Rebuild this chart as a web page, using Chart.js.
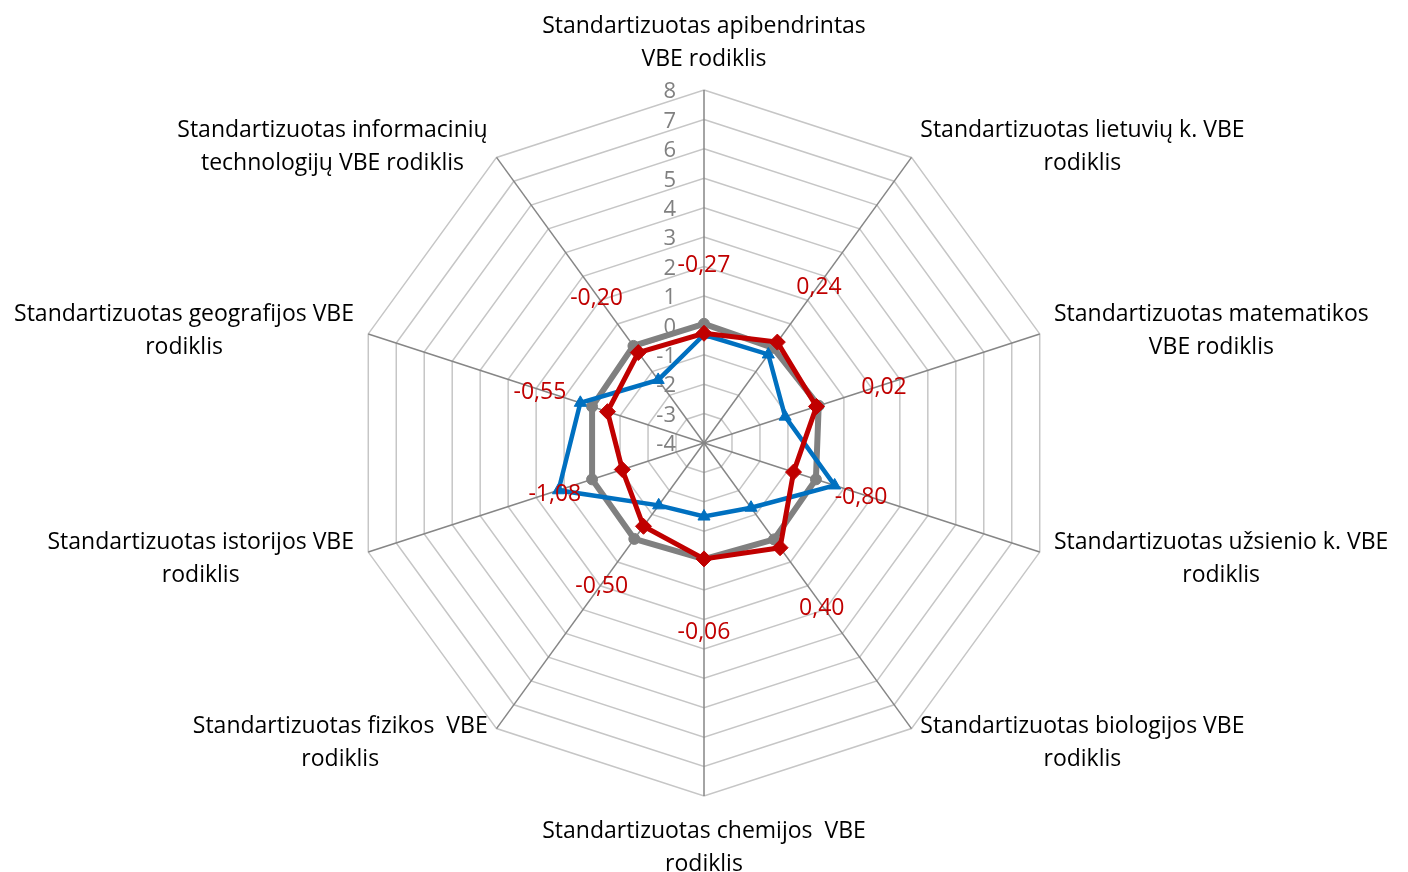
<!DOCTYPE html>
<html>
<head>
<meta charset="utf-8">
<script src="https://cdn.jsdelivr.net/npm/chart.js@4.4.0/dist/chart.umd.min.js"></script>
<style>
  html, body { margin: 0; padding: 0; background: #fff; }
</style>
</head>
<body>
<canvas id="myChart" width="1408" height="872"></canvas>
<script>
const categories = [
  ['Standartizuotas apibendrintas', 'VBE rodiklis'],
  ['Standartizuotas lietuvių k. VBE', 'rodiklis'],
  ['Standartizuotas matematikos', 'VBE rodiklis'],
  ['Standartizuotas užsienio k. VBE', 'rodiklis'],
  ['Standartizuotas biologijos VBE', 'rodiklis'],
  ['Standartizuotas chemijos  VBE', 'rodiklis'],
  ['Standartizuotas fizikos  VBE', 'rodiklis'],
  ['Standartizuotas istorijos VBE', 'rodiklis'],
  ['Standartizuotas geografijos VBE', 'rodiklis'],
  ['Standartizuotas informacinių', 'technologijų VBE rodiklis'],
];
const redValues = [-0.27, 0.24, 0.02, -0.80, 0.40, -0.06, -0.50, -1.08, -0.55, -0.20];
const blueValues = [-0.32, -0.28, -1.1, 0.67, -1.28, -1.5, -1.38, 1.2, 0.42, -1.35];
const grayValues = [0.05, 0.0, 0.1, 0.0, 0.05, -0.05, 0.03, 0.0, 0.0, 0.08];
const tickLabels = [-4, -3, -2, -1, 0, 1, 2, 3, 4, 5, 6, 7, 8];

const FONT = '"Open Sans", Lato, sans-serif';

const labelPlugin = {
  id: 'labelPlugin',
  beforeDatasetsDraw(chart) {
    const scale = chart.scales.r;
    const ctx = chart.ctx;
    ctx.save();
    ctx.font = '22px ' + FONT;
    ctx.fillStyle = '#808080';
    ctx.textAlign = 'right';
    ctx.textBaseline = 'middle';
    tickLabels.forEach((t) => {
      const y = scale.yCenter - scale.getDistanceFromCenterForValue(t);
      ctx.fillText(String(t), scale.xCenter - 28, y + 2);
    });
    ctx.restore();
  },
  afterDatasetsDraw(chart) {
    const scale = chart.scales.r;
    const ctx = chart.ctx;
    ctx.save();
    ctx.textBaseline = 'middle';
    // axis titles
    ctx.font = '23px ' + FONT;
    ctx.fillStyle = '#000';
    ctx.textAlign = 'center';
    const lh = 33;
    categories.forEach((lines, i) => {
      const p = scale.getPointPosition(i, scale.drawingArea + 15);
      const deg = i * 360 / categories.length;
      const w = Math.max(...lines.map((l) => ctx.measureText(l).width));
      let cx = p.x;
      let y0;
      if (deg === 0) {
        y0 = p.y - 16 - (lines.length - 1) * lh;
      } else if (deg === 180) {
        y0 = p.y + 20;
      } else {
        cx = deg < 180 ? p.x + w / 2 : p.x - w / 2;
        y0 = p.y + 2 - (lines.length - 1) * lh / 2;
      }
      lines.forEach((l, k) => ctx.fillText(l, cx, y0 + k * lh));
    });
    // red value labels
    ctx.font = '23px ' + FONT;
    ctx.fillStyle = '#C00000';
    redValues.forEach((v, i) => {
      const p = scale.getPointPosition(i, scale.getDistanceFromCenterForValue(v) + 71);
      ctx.fillText(v.toFixed(2).replace('.', ','), p.x, p.y + 3);
    });
    ctx.restore();
  },
};

const ctx = document.getElementById('myChart');
const myChart = new Chart(ctx, {
  type: 'radar',
  plugins: [labelPlugin],
  data: {
    labels: categories,
    datasets: [
      {
        label: 'red',
        data: redValues,
        borderColor: '#C00000',
        backgroundColor: '#C00000',
        borderWidth: 5,
        pointStyle: 'rectRot',
        pointRadius: 8,
        pointBorderWidth: 1,
        fill: false,
      },
      {
        label: 'blue',
        data: blueValues,
        borderColor: '#0070C0',
        backgroundColor: '#0070C0',
        borderWidth: 4.5,
        pointStyle: 'triangle',
        pointRadius: 7,
        pointBorderWidth: 1,
        fill: false,
      },
      {
        label: 'gray',
        data: grayValues,
        borderColor: '#808080',
        backgroundColor: '#808080',
        borderWidth: 6,
        pointStyle: 'circle',
        pointRadius: 5.5,
        pointBorderWidth: 1,
        fill: false,
      },
    ],
  },
  options: {
    responsive: false,
    animation: false,
    layout: {
      padding: { top: 90, bottom: 76, left: 0, right: 0 },
    },
    elements: {
      line: { tension: 0 },
    },
    scales: {
      r: {
        min: -4,
        max: 8,
        ticks: { stepSize: 1, display: false },
        grid: { color: '#C6C6C6', lineWidth: 1.5 },
        angleLines: { color: '#868686', lineWidth: 1.5 },
        pointLabels: { display: false },
      },
    },
    plugins: {
      legend: { display: false },
      tooltip: { enabled: false },
    },
  },
});
</script>
</body>
</html>
